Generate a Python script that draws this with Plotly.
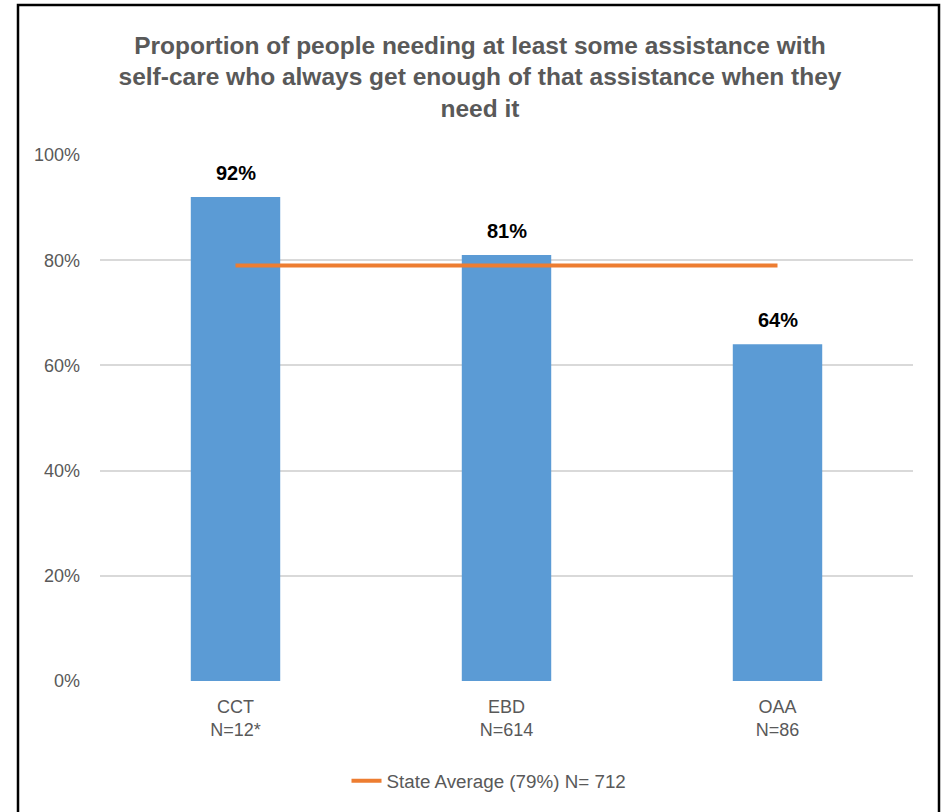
import plotly.graph_objects as go

categories = ["CCT<br>N=12*", "EBD<br>N=614", "OAA<br>N=86"]
values = [0.92, 0.81, 0.64]
value_labels = ["92%", "81%", "64%"]
state_avg = [0.79, 0.79, 0.79]
legend_name = "State Average (79%) N= 712"
title_text = ("Proportion of people needing at least some assistance with<br>"
              "self-care who always get enough of that assistance when they<br>"
              "need it")

FONT = "Liberation Sans, Arial, sans-serif"
GRAY = "#595959"

# plot area in page pixels
L, R, T, B = 100, 913, 155, 681
W_PLOT = float(R - L)
H_PLOT = float(B - T)
def px_x(p):
    return (p - L) / W_PLOT
def px_y(p):
    return (B - p) / H_PLOT

fig = go.Figure()
fig.add_trace(go.Bar(
    x=categories, y=values, width=0.33,
    marker=dict(color="#5B9BD5", line=dict(width=0)),
    showlegend=False, hoverinfo="skip",
))
fig.add_trace(go.Scatter(
    x=categories, y=state_avg, mode="lines", name=legend_name,
    line=dict(color="#ED7D31", width=4), hoverinfo="skip",
))

for c, v, t in zip(categories, values, value_labels):
    fig.add_annotation(x=c, y=v, text="<b>%s</b>" % t, showarrow=False,
                       yanchor="bottom", yshift=11,
                       font=dict(family=FONT, size=20, color="#000000"))

fig.add_shape(type="rect", xref="paper", yref="paper",
              x0=px_x(18), x1=px_x(939), y0=px_y(840), y1=px_y(5),
              line=dict(color="#000000", width=2.5), fillcolor="rgba(0,0,0,0)",
              layer="above")

fig.update_layout(
    width=943, height=812,
    margin=dict(l=L, r=943 - R, t=T, b=812 - B),
    paper_bgcolor="white", plot_bgcolor="white",
    font=dict(family=FONT, color=GRAY),
    title=dict(text="<b>%s</b>" % title_text, x=480/943, xanchor="center",
               y=1 - 53.5/812, yanchor="middle",
               font=dict(family=FONT, size=24.5, color=GRAY)),
    showlegend=True,
    legend=dict(orientation="h", x=px_x(489), xanchor="center",
                y=px_y(781), yanchor="middle",
                font=dict(family=FONT, size=18.8, color=GRAY),
                bgcolor="rgba(0,0,0,0)"),
    xaxis=dict(showgrid=False, showline=False, ticks="",
               tickfont=dict(family=FONT, size=18, color=GRAY),
               ticklabelstandoff=13),
    yaxis=dict(range=[0, 1], dtick=0.2, tickformat=".0%",
               showgrid=True, gridcolor="#D9D9D9", gridwidth=1.5,
               zeroline=False, showline=False, ticks="",
               tickfont=dict(family=FONT, size=18, color=GRAY),
               ticklabelstandoff=19),
)

fig.write_html("out.html", config={"displayModeBar": False},
               post_script="document.body.style.margin='0px';")
